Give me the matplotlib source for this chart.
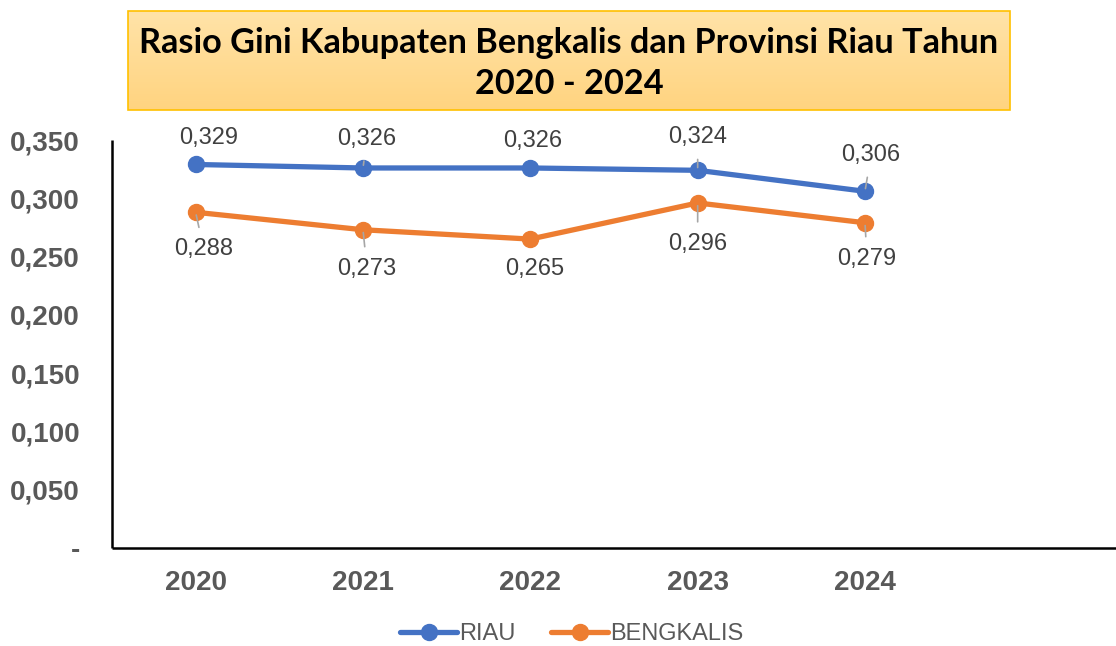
import matplotlib
matplotlib.use('Agg')
import matplotlib.pyplot as plt
import numpy as np
from matplotlib.patches import Rectangle

years = ['2020', '2021', '2022', '2023', '2024']
riau = [0.329, 0.326, 0.326, 0.324, 0.306]
bengkalis = [0.288, 0.273, 0.265, 0.296, 0.279]

# label offsets in pixels (dx, dy) and whether a leader line is drawn
riau_off = [(13, 26), (4, 29), (2, 27), (0, 33), (6, 36)]
riau_lead = [False, True, False, True, True]
beng_off = [(8, -37), (4, -39), (4, -30), (0, -41), (2, -36)]
beng_lead = [True, True, False, True, True]

BLUE = '#4472C4'
ORANGE = '#ED7D31'
GREY = '#595959'

W, H = 1116, 646
fig = plt.figure(figsize=(W / 100, H / 100), dpi=100)

# title box with soft gradient
tax = fig.add_axes([128 / W, 1 - 110 / H, (1010 - 128) / W, 99 / H])
grad = np.linspace(0, 1, 100).reshape(-1, 1)
top = np.array([1.0, 0.89, 0.66])
bot = np.array([1.0, 0.83, 0.50])
img = top * (1 - grad[:, :, None]) + bot * grad[:, :, None]
tax.imshow(img, aspect='auto', extent=[0, 1, 0, 1])
tax.add_patch(Rectangle((0, 0), 1, 1, fill=False, edgecolor='#FFC000', lw=1.2,
                        transform=tax.transAxes, clip_on=False))
tax.set_axis_off()
tax.text(0.5, 0.47, 'Rasio Gini Kabupaten Bengkalis dan Provinsi Riau Tahun\n2020 - 2024',
         ha='center', va='center', fontsize=24.7, fontweight='bold',
         family='Lato', color='black', linespacing=1.38, transform=tax.transAxes)

ax = fig.add_axes([112 / W, 1 - 548 / H, 1 - 112 / W, (548 - 140) / H])
x = np.arange(len(years))
ax.plot(x, riau, color=BLUE, lw=3.8, marker='o', ms=11.5, label='RIAU',
        solid_capstyle='round')
ax.plot(x, bengkalis, color=ORANGE, lw=3.8, marker='o', ms=11.5, label='BENGKALIS',
        solid_capstyle='round')

def labels(vals, offs, leads):
    for i, v in enumerate(vals):
        dx, dy = offs[i]
        props = None
        if leads[i]:
            props = dict(arrowstyle='-', color='#A6A6A6', lw=1.2,
                         shrinkA=6, shrinkB=2)
        ax.annotate(('%.3f' % v).replace('.', ','), xy=(i, v),
                    xytext=(dx, dy), textcoords='offset pixels',
                    ha='center', va='center', fontsize=17, color='#404040',
                    family='Liberation Sans', arrowprops=props)

labels(riau, riau_off, riau_lead)
labels(bengkalis, beng_off, beng_lead)

ax.set_xlim(-0.5, 5.5)
ax.set_ylim(0, 0.35)
ax.set_xticks(x)
ax.set_xticklabels(years)
yt = np.arange(0, 0.351, 0.05)
ax.set_yticks(yt)
ax.set_yticklabels(['-'] + [('%.3f' % v).replace('.', ',') for v in yt[1:]])
ax.tick_params(axis='both', length=0, labelsize=20, labelcolor=GREY)
ax.tick_params(axis='y', pad=23)
ax.tick_params(axis='x', pad=16)
for lab in ax.get_xticklabels() + ax.get_yticklabels():
    lab.set_fontweight('bold')
    lab.set_family('Liberation Sans')
for s in ['top', 'right']:
    ax.spines[s].set_visible(False)
for s in ['left', 'bottom']:
    ax.spines[s].set_linewidth(1.8)
    ax.spines[s].set_color('black')
    ax.spines[s].set_capstyle('butt')

leg = ax.legend(loc='center', bbox_to_anchor=(572 / W, 1 - 634 / H),
                bbox_transform=fig.transFigure, ncol=2, frameon=False,
                prop={'family': 'Liberation Sans', 'size': 17},
                handlelength=2.4, handletextpad=0.1, columnspacing=1.5)
for t in leg.get_texts():
    t.set_color(GREY)

fig.savefig('out.png', dpi=100)
